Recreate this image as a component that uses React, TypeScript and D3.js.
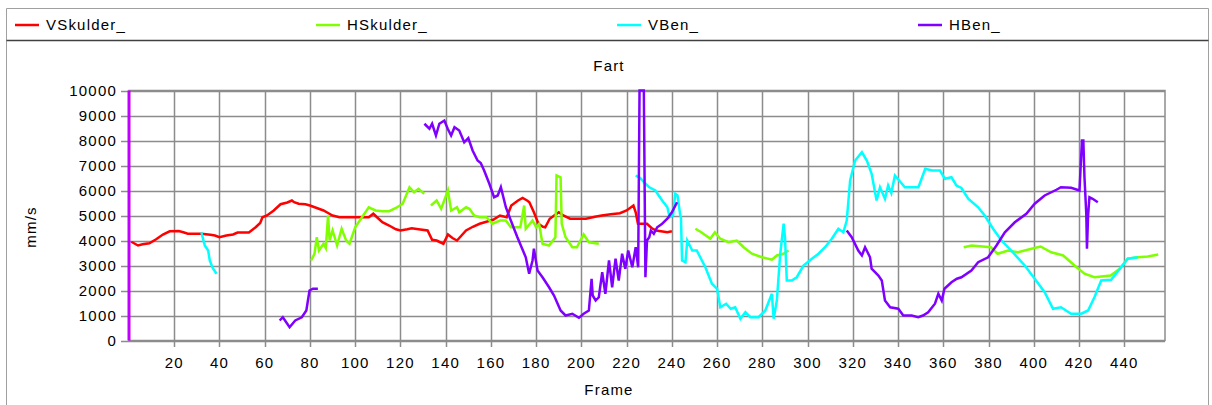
import React from "react";
import * as d3 from "d3";

type Pt = [number, number];

const seriesNames = ["VSkulder_", "HSkulder_", "VBen_", "HBen_"];
const seriesColors = ["#ff0000", "#80ff00", "#00ffff", "#8000ff"];

const vSkulder: Pt[][] = [[
  [1,3950],[2,3900],[4,3800],[6,3850],[9,3890],[12,4050],[15,4240],[18,4370],[22,4380],[24,4330],[26,4270],[32,4270],[34,4250],[36,4230],[38,4200],[40,4130],[43,4200],[46,4240],[48,4320],[53,4320],[56,4530],[58,4700],[59,4930],[61,5000],[64,5200],[67,5450],[70,5520],[72,5600],[73,5530],[75,5470],[78,5450],[80,5400],[83,5300],[86,5200],[88,5100],[90,5000],[93,4930],[100,4930],[104,4930],[106,4930],[108,5070],[110,4900],[112,4730],[115,4600],[118,4450],[120,4400],[123,4450],[125,4490],[128,4450],[132,4400],[134,4030],[136,4000],[139,3870],[141,4240],[143,4100],[145,4000],[147,4200],[149,4400],[152,4550],[155,4670],[158,4750],[161,4830],[164,5000],[167,4930],[169,5400],[172,5600],[174,5700],[176,5600],[177,5530],[179,5130],[181,4670],[183,4550],[184,4530],[186,4870],[188,5000],[190,5130],[192,5000],[195,4870],[202,4870],[206,4950],[209,5000],[213,5050],[217,5090],[220,5200],[223,5400],[224,5130],[225,4670],[229,4670],[231,4500],[233,4400],[238,4330],[240,4370]
]];

const hSkulder: Pt[][] = [
  [[80.5,3200],[82,3470],[83,4130],[84,3600],[86,3870],[87,3700],[88,5000],[88.7,4000],[90,4400],[92,3800],[94,4470],[96,4000],[97.5,3870],[100,4530],[103,4930],[106,5330],[109,5200],[112,5170],[115,5170],[118,5300],[121,5470],[124,6130],[126,5930],[128,6070],[130.5,5870]],
  [[133.5,5400],[136,5600],[138,5270],[141,6000],[142.4,5200],[145,5330],[146,5130],[149,5330],[150.5,5270],[152.6,5000],[155,4930],[158,4930],[160.7,4670],[164,4800],[166.6,4800],[168.8,4530],[173,4530],[174.7,5400],[175.4,4470],[178.4,4800],[180,4530],[181.3,4670],[182.8,3870],[185.7,3800],[188.5,4130],[189,6600],[190.8,6530],[191.3,4670],[193,4130],[196,3730],[198,3730],[201,4240],[203.3,3930],[207.7,3870]],
  [[250.4,4470],[253,4330],[257,4070],[259,4330],[261.4,4070],[265,3930],[268.7,4000],[271.7,3730],[275.4,3470],[279.8,3330],[284.2,3230],[286.4,3400],[289.3,3470],[291.6,3600]],
  [[369,3730],[372.5,3800],[381,3730],[384,3470],[388.6,3600],[393,3530],[399,3670],[403,3760],[407.7,3530],[413,3400],[418,3000],[422.4,2670],[426.8,2530],[434,2600],[438,2870],[441.5,3270],[446,3330],[450.4,3360],[455,3440]]
];

const vBen: Pt[][] = [
  [[32,4330],[33.5,3800],[35,3600],[35.7,3200],[37,2900],[38.7,2670]],
  [[224,6600],[226,6500],[228,6300],[230,6130],[232.7,6000],[235.7,5600],[238,5330],[239,4930],[240.5,5000],[241.5,5870],[242.5,5800],[243.7,5000],[244,4930],[244.5,3200],[246,3130],[246.8,4000],[249,3600],[251,3600],[254.8,2930],[257.7,2270],[260,2070],[261.4,1330],[264,1470],[266,1270],[268,1330],[270.3,870],[272.5,1130],[274.7,930],[278.3,930],[281.3,1200],[284.2,1870],[285,870],[286.4,1600],[287.9,3470],[289.4,4670],[290,4130],[290.8,2400],[293,2400],[295.2,2530],[298.2,3000],[301.9,3270],[304.8,3470],[307.7,3730],[310.7,4070],[313.6,4470],[315.8,4330],[317.3,4800],[318.8,6400],[321,7200],[324,7530],[326.2,7200],[328.3,6670],[330.5,5600],[332,6130],[334.2,5670],[335.6,6200],[337,5900],[338.6,6600],[343,6130],[349,6130],[352,6870],[355,6800],[358.5,6800],[360.7,6470],[363.6,6530],[365.8,6200],[368,6100],[371,5670],[375.4,5330],[378.3,5000],[382,4470],[385.7,4000],[390,3600],[396,3000],[400.4,2470],[404.8,1930],[408.5,1270],[412,1330],[416.5,1070],[421,1070],[424,1200],[426.8,1730],[429.8,2400],[434.2,2430],[438.6,2930],[441.5,3270],[446,3330]]
];

const hBen: Pt[][] = [
  [[66.6,800],[68,930],[71,530],[73.5,800],[76.4,930],[78.4,1200],[79.8,2000],[81.3,2070],[83.5,2070]],
  [[130.6,8670],[132.8,8470],[134,8670],[135.7,8200],[137.2,8670],[139.4,8800],[140.9,8470],[142.4,8200],[143.9,8530],[146,8400],[148.2,7930],[150,8100],[151.9,7600],[154.1,7200],[155.5,7100],[157,6800],[159.3,6270],[161.4,5730],[163,5800],[164.4,6130],[166.6,5330],[168.8,4800],[171.7,4130],[175.4,3330],[176.9,2670],[178.4,3200],[179,3670],[180.6,2800],[182.8,2530],[185.7,2130],[187.9,1800],[190.8,1200],[193,1000],[196,1070],[198.9,907],[201,1070],[203.3,1200],[204.5,2470],[205,1800],[206.3,1600],[207.7,1730],[209.2,2730],[210.6,1870],[212.2,3200],[213.6,2130],[215.1,3270],[216.5,2400],[218,3470],[219.4,2870],[220.7,3600],[222.5,2930],[224,3730],[225.1,2930],[225.7,10000],[227.6,10000],[228.3,2530],[229,4000],[230,4130],[230.7,4400],[232,4270],[233.5,4530],[235.7,4670],[238,4870],[240,5130],[242.3,5530]],
  [[317.3,4400],[319.5,4130],[322.4,3600],[324,3400],[325.4,3730],[327.6,3330],[328.3,2870],[331.3,2600],[332.8,2400],[334.2,1600],[336.5,1330],[340.1,1270],[342.3,1000],[346,1000],[348.9,930],[351,1000],[353.3,1130],[356.3,1470],[357.8,1870],[359.3,1600],[360.5,2070],[363.6,2330],[366,2470],[368,2530],[372.4,2800],[375.4,3130],[379.8,3330],[383.5,3800],[387.2,4330],[391.6,4730],[396.7,5070],[400.4,5470],[404.8,5800],[410,6030],[412,6130],[416.5,6110],[420.2,6000],[420.7,6930],[421.3,8000],[421.9,8000],[422.4,6530],[423.2,5070],[423.5,3670],[424,5000],[424.6,5730],[426,5670],[428.3,5530]]
];

const allSeries = [vSkulder, hSkulder, vBen, hBen];

const xTicks = d3.range(20, 441, 20);
const yTicks = d3.range(0, 10001, 1000);
const cursorFrame = 0;
const xDomain: [number, number] = [0, 458];
const yDomain: [number, number] = [0, 10000];
const title = "Fart";
const xLabel = "Frame";
const yLabel = "mm/s";

const FONT = "'Liberation Sans', Arial, sans-serif";
const LS = 1.2;

export default function App() {
  const W = 1212, H = 405;
  const L = 129, R = 1165, T = 90.5, B = 340.5;
  const x = d3.scaleLinear().domain(xDomain).range([L, R]);
  const y = d3.scaleLinear().domain(yDomain).range([B, T]);
  const line = d3.line<Pt>().x(d => x(d[0])).y(d => y(d[1]));
  const gridColor = "#8c8c8c";

  return (
    <svg width={W} height={H} style={{ position: "absolute", left: 0, top: 0, background: "#fff" }} fontFamily={FONT}>
      <rect x={0} y={0} width={W} height={H} fill="#fff" />
      {/* outer frame */}
      <line x1={6.5} y1={8.5} x2={1208.5} y2={8.5} stroke="#a0a0a0" />
      <line x1={6.5} y1={8.5} x2={6.5} y2={H} stroke="#a0a0a0" />
      <line x1={1208.5} y1={8.5} x2={1208.5} y2={H} stroke="#a0a0a0" />
      <line x1={6.5} y1={40.5} x2={1208.5} y2={40.5} stroke="#404040" strokeWidth={1.5} />
      {/* legend */}
      {seriesNames.map((n, i) => (
        <g key={n} transform={`translate(${15 + i * 301},0)`}>
          <line x1={0} x2={24} y1={25} y2={25} stroke={seriesColors[i]} strokeWidth={2.5} />
          <text x={31} y={30} fontSize={15} letterSpacing={LS} fill="#000">{n}</text>
        </g>
      ))}
      <text x={609} y={71} textAnchor="middle" fontSize={15} letterSpacing={LS}>{title}</text>
      {/* grid */}
      {yTicks.map(t => (
        <line key={"y" + t} x1={121} x2={R} y1={Math.round(y(t)) + 0.5} y2={Math.round(y(t)) + 0.5} stroke={gridColor} strokeWidth={1.5} />
      ))}
      {xTicks.map(t => (
        <line key={"x" + t} x1={Math.round(x(t)) + 0.5} x2={Math.round(x(t)) + 0.5} y1={T} y2={347} stroke={gridColor} strokeWidth={1.5} />
      ))}
      <rect x={L} y={T} width={R - L} height={B - T} fill="none" stroke={gridColor} strokeWidth={1.5} />
      {/* y labels */}
      {yTicks.map(t => (
        <text key={"yl" + t} x={117} y={y(t) + 5} textAnchor="end" fontSize={15} letterSpacing={LS}>{t}</text>
      ))}
      {xTicks.map(t => (
        <text key={"xl" + t} x={x(t)} y={368} textAnchor="middle" fontSize={15} letterSpacing={LS}>{t}</text>
      ))}
      <text x={609} y={395} textAnchor="middle" fontSize={15} letterSpacing={LS}>{xLabel}</text>
      <text transform={`translate(36,227) rotate(-90)`} textAnchor="middle" fontSize={15} letterSpacing={LS}>{yLabel}</text>
      {/* series */}
      <g>
        {allSeries.map((segs, i) =>
          segs.map((seg, j) => (
            <path key={i + "-" + j} d={line(seg) || ""} fill="none" stroke={seriesColors[i]} strokeWidth={2.5} strokeLinejoin="miter" />
          ))
        )}
      </g>
      <line x1={x(cursorFrame)} x2={x(cursorFrame)} y1={y(yDomain[0])} y2={y(yDomain[1])} stroke="#c000ff" strokeWidth={3} />
    </svg>
  );
}
